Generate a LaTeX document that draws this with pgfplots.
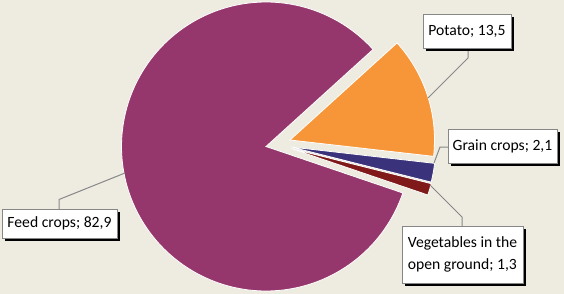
\documentclass[border=0pt]{standalone}
\usepackage{pgfplots}
\pgfplotsset{compat=1.18}
\usepackage{fontspec}
\setmainfont{Carlito}
\usetikzlibrary{shadows}

\definecolor{bgc}{RGB}{238,236,225}
\definecolor{cFeed}{RGB}{149,55,108}
\definecolor{cPot}{RGB}{247,150,56}
\definecolor{cGrain}{RGB}{58,50,122}
\definecolor{cVeg}{RGB}{128,25,25}
\definecolor{cLine}{RGB}{135,135,135}

% data (percent)
\def\vPotato{13.5}
\def\vGrain{2.1}
\def\vVeg{1.3}
\def\vFeed{82.9}
\pgfmathsetmacro\total{\vPotato+\vGrain+\vVeg+\vFeed}
\pgfmathsetmacro\k{360/\total}
% geometry (pixel-like units, y downwards)
\def\cx{266}\def\cy{146.5}\def\R{144.5}
\pgfmathsetmacro\aA{42.2}
\pgfmathsetmacro\aB{\aA-\k*\vPotato}
\pgfmathsetmacro\aC{\aB-\k*\vGrain}
\pgfmathsetmacro\aD{\aC-\k*\vVeg}
\pgfmathsetmacro\aE{\aD-\k*\vFeed}
% exploded centres
\pgfmathsetmacro\pX{\cx+24}\pgfmathsetmacro\pY{\cy-6.5}
\pgfmathsetmacro\gX{\cx+25}\pgfmathsetmacro\gY{\cy+0.5}
\pgfmathsetmacro\vX{\cx+25}\pgfmathsetmacro\vY{\cy+2}

\tikzset{lbl/.style={draw=cLine, line width=0.8bp, fill=white, font=\fontsize{15.7}{21.5}\selectfont,
  inner xsep=4bp, inner ysep=0bp, align=left,
  drop shadow={shadow xshift=3.2bp, shadow yshift=-3.2bp, fill=black, opacity=1}},
  ldr/.style={draw=cLine, line width=1bp}}

\begin{document}
\begin{tikzpicture}
\begin{axis}[width=564bp, height=294bp, scale only axis,
  xmin=0, xmax=564, ymin=0, ymax=294, y dir=reverse,
  hide axis, clip=false]
\fill[bgc] (axis cs:0,0) rectangle (axis cs:564,294);
% Feed crops
\addplot[fill=cFeed, draw=white, line width=0.8bp, domain=\aE:\aD, samples=150]
  ({\cx+\R*cos(x)}, {\cy-\R*sin(x)}) -- (axis cs:\cx,\cy) -- cycle;
% Potato
\addplot[fill=cPot, draw=white, line width=0.8bp, domain=\aB:\aA, samples=40]
  ({\pX+\R*cos(x)}, {\pY-\R*sin(x)}) -- (axis cs:\pX,\pY) -- cycle;
% Grain crops
\addplot[fill=cGrain, draw=white, line width=0.8bp, domain=\aC:\aB, samples=10]
  ({\gX+\R*cos(x)}, {\gY-\R*sin(x)}) -- (axis cs:\gX,\gY) -- cycle;
% Vegetables
\addplot[fill=cVeg, draw=white, line width=0.8bp, domain=\aD:\aC, samples=10]
  ({\vX+\R*cos(x)}, {\vY-\R*sin(x)}) -- (axis cs:\vX,\vY) -- cycle;

% leader lines
\draw[ldr] (axis cs:468,48) -- (axis cs:468,58) -- (axis cs:428,98);
\draw[ldr] (axis cs:448,147) -- (axis cs:440,147) -- (axis cs:434,163);
\draw[ldr] (axis cs:462,226) -- (axis cs:462,217) -- (axis cs:430,185);
\draw[ldr] (axis cs:59,209) -- (axis cs:59,199.5) -- (axis cs:125,173);

% labels
\node[lbl, minimum width=88bp, minimum height=34bp] at (axis cs:467,31) {Potato; 13,5};
\node[lbl, minimum width=109bp, minimum height=34bp] at (axis cs:502.5,146) {Grain crops; 2,1};
\node[lbl, minimum width=121bp, minimum height=57bp] at (axis cs:462.5,254.5) {Vegetables in the\\open ground; 1,3};
\node[lbl, minimum width=115bp, minimum height=29bp] at (axis cs:59.5,223.5) {Feed crops; 82,9};
\end{axis}
\end{tikzpicture}
\end{document}
